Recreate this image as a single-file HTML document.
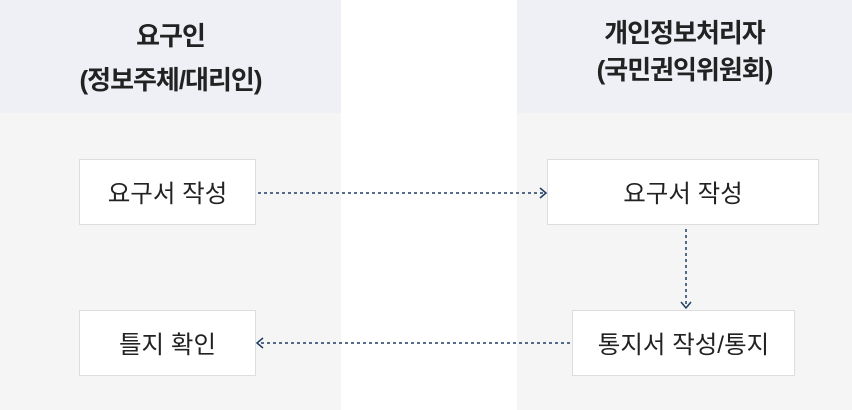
<!DOCTYPE html>
<html><head><meta charset="utf-8"><style>
body{margin:0;width:852px;height:410px;position:relative;background:#fff;font-family:"Liberation Sans","Noto Sans CJK KR",sans-serif;overflow:hidden}
.col{position:absolute;top:0;height:410px;background:#f5f5f5}
.hd{position:absolute;top:0;left:0;right:0;height:113px;background:#eef0f5}
.ht{position:absolute;left:0;right:0;text-align:center;font-weight:bold;font-size:26px;color:#222;letter-spacing:-1px;line-height:30px}
.box{position:absolute;background:#fff;border:1px solid #ddd;box-sizing:border-box;display:flex;align-items:center;justify-content:center;font-size:24.5px;color:#222}
</style></head><body>
<div class="col" style="left:0;width:341px"><div class="hd"></div>
<div class="ht" style="top:21px">요구인</div><div class="ht" style="top:65px">(정보주체/대리인)</div></div>
<div class="col" style="left:517px;width:335px"><div class="hd"></div>
<div class="ht" style="top:18px">개인정보처리자</div><div class="ht" style="top:55px">(국민권익위원회)</div></div>
<div class="box" style="left:79px;top:159px;width:177px;height:66px">요구서 작성</div>
<div class="box" style="left:547px;top:159px;width:272px;height:66px">요구서 작성</div>
<div class="box" style="left:572px;top:310px;width:223px;height:66px">통지서 작성/통지</div>
<div class="box" style="left:79px;top:310px;width:177px;height:66px">틀지 확인</div>
<svg width="852" height="410" style="position:absolute;left:0;top:0">
<g stroke="#1f3d66" stroke-width="1.5" fill="none">
<line x1="258" y1="193" x2="544" y2="193" stroke-dasharray="3,3"/>
<polyline points="540,188 546,193 540,198"/>
<line x1="686" y1="229" x2="686" y2="307" stroke-dasharray="3,3"/>
<polyline points="681,302 686,308 691,302"/>
<line x1="570" y1="343" x2="259" y2="343" stroke-dasharray="3,3"/>
<polyline points="263,338 257,343 263,348"/>
</g></svg>
</body></html>
